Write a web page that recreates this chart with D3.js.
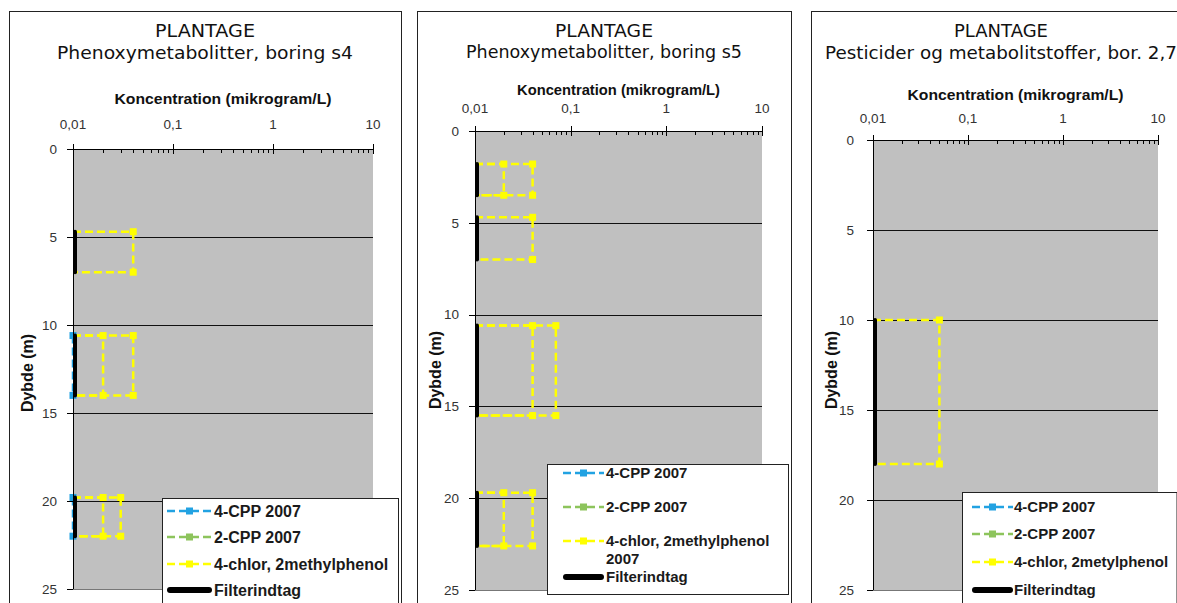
<!DOCTYPE html>
<html>
<head>
<meta charset="utf-8">
<script src="https://cdn.jsdelivr.net/npm/d3@7/dist/d3.min.js"></script>
<style>
  body { margin: 0; background: #fff; }
  svg { display: block; }
</style>
</head>
<body>
<svg id="chart" width="1177" height="603"></svg>
<script>
const mainTitle = "PLANTAGE";
const subTitles = [
  "Phenoxymetabolitter, boring s4",
  "Phenoxymetabolitter, boring s5",
  "Pesticider og metabolitstoffer, bor. 2,7"
];
const xAxisTitle = "Koncentration (mikrogram/L)";
const yAxisTitle = "Dybde (m)";
const xTickValues = [0.01, 0.1, 1, 10];
const xTickLabels = ["0,01", "0,1", "1", "10"];
const yTickValues = [0, 5, 10, 15, 20, 25];
const legendLabels = [
  ["4-CPP 2007", "2-CPP 2007", "4-chlor, 2methylphenol", "Filterindtag"],
  ["4-CPP 2007", "2-CPP 2007", "4-chlor, 2methylphenol\n2007", "Filterindtag"],
  ["4-CPP 2007", "2-CPP 2007", "4-chlor, 2metylphenol", "Filterindtag"]
];

// filter intervals [top, bottom] in m
const filterS4 = [[4.7, 7.0], [10.6, 14.0], [19.8, 22.0]];
const filterS5 = [[1.8, 3.5], [4.7, 7.0], [10.6, 15.5], [19.7, 22.6]];
const filterB27 = [[10.0, 18.0]];

// samples [top, bottom, concentration]
const cpp4S4 = [[10.6, 14.0, 0.01], [19.8, 22.0, 0.01]];
const cpp4S5 = [];
const cpp4B27 = [];
const cpp2S4 = [];
const cpp2S5 = [];
const cpp2B27 = [];
const chlorS4 = [[4.7, 7.0, 0.04], [10.6, 14.0, 0.02], [10.6, 14.0, 0.04], [19.8, 22.0, 0.02], [19.8, 22.0, 0.03]];
const chlorS5 = [[1.8, 3.5, 0.02], [1.8, 3.5, 0.04], [4.7, 7.0, 0.04], [10.6, 15.5, 0.04], [10.6, 15.5, 0.07], [19.7, 22.6, 0.02], [19.7, 22.6, 0.04]];
const chlorB27 = [[10.0, 18.0, 0.05]];

const colors = { cpp4: "#22a2e2", cpp2: "#8dc45c", chlor: "#ffff00", filter: "#000" };

// layout of the three panels
const layouts = [
  { frame: [9, 11, 392], plot: { l: 73, r: 373, t: 149, b: 589 },
    titleY: [37, 59], titleW: [100, 296], axTitleY: 104, axTitleW: 217, xTickY: 129, yTickGap: 16,
    yLab: [33, 373], legend: { x: 162, y: 498, w: 236, rows: [13, 39, 66, 92], line: [5, 50], text: 52, font: 16 } },
  { frame: [417, 11, 374], plot: { l: 475, r: 762, t: 131, b: 590 },
    titleY: [37, 58], titleW: [98, 276], axTitleY: 95, axTitleW: 203, xTickY: 113, yTickGap: 16,
    yLab: [441, 370], legend: { x: 547, y: 464, w: 241, rows: [9, 43, 77, 113], line: [16, 57], text: 59, font: 15 } },
  { frame: [811, 11, 380], plot: { l: 873, r: 1158, t: 140, b: 590 },
    titleY: [37, 59], titleW: [94, 352], axTitleY: 100, axTitleW: 216, xTickY: 123, yTickGap: 19,
    yLab: [837, 370], legend: { x: 962, y: 492, w: 214.5, rows: [15, 42, 70, 98], line: [10, 51], text: 52, font: 15 } }
];

const panels = [
  { sub: subTitles[0], legend: legendLabels[0], filter: filterS4, cpp4: cpp4S4, cpp2: cpp2S4, chlor: chlorS4 },
  { sub: subTitles[1], legend: legendLabels[1], filter: filterS5, cpp4: cpp4S5, cpp2: cpp2S5, chlor: chlorS5 },
  { sub: subTitles[2], legend: legendLabels[2], filter: filterB27, cpp4: cpp4B27, cpp2: cpp2B27, chlor: chlorB27 }
];

const svg = d3.select("#chart");

panels.forEach((p, i) => drawPanel(p, layouts[i]));

function drawPanel(p, L) {
  const g = svg.append("g");
  const x = d3.scaleLog().domain([0.01, 10]).range([L.plot.l, L.plot.r]);
  const y = d3.scaleLinear().domain([0, 25]).range([L.plot.t, L.plot.b]);
  const x0 = x.domain()[0];

  // outer frame
  g.append("rect")
    .attr("x", L.frame[0] + 0.5).attr("y", L.frame[1] + 0.5)
    .attr("width", L.frame[2]).attr("height", 620)
    .attr("fill", "#fff").attr("stroke", "#222");

  // titles
  g.append("text")
    .attr("x", L.frame[0] + L.frame[2] / 2).attr("y", L.titleY[0])
    .attr("text-anchor", "middle")
    .style("font", "17px 'DejaVu Sans', sans-serif").attr("fill", "#111")
    .attr("textLength", L.titleW[0]).attr("lengthAdjust", "spacingAndGlyphs")
    .text(mainTitle);
  g.append("text")
    .attr("x", L.frame[0] + L.frame[2] / 2).attr("y", L.titleY[1])
    .attr("text-anchor", "middle")
    .style("font", "17px 'DejaVu Sans', sans-serif").attr("fill", "#111")
    .attr("textLength", L.titleW[1]).attr("lengthAdjust", "spacingAndGlyphs")
    .text(p.sub);

  // plot area
  g.append("rect")
    .attr("x", L.plot.l).attr("y", L.plot.t)
    .attr("width", L.plot.r - L.plot.l).attr("height", L.plot.b - L.plot.t)
    .attr("fill", "#c0c0c0");

  // horizontal gridlines
  g.selectAll(".grid")
    .data(yTickValues.slice(1))
    .join("line")
    .attr("x1", L.plot.l).attr("x2", L.plot.r)
    .attr("y1", d => Math.round(y(d)) + 0.5).attr("y2", d => Math.round(y(d)) + 0.5)
    .attr("stroke", (d, i, a) => i === a.length - 1 ? "#777" : "#111")
    .attr("stroke-width", 1);

  // series: box path from axis to concentration and back
  const line = d3.line().x(d => x(d[0])).y(d => y(d[1]));
  const drawSeries = (data, color) => {
    g.append("g").selectAll("path")
      .data(data)
      .join("path")
      .attr("d", d => line([[x0, d[0]], [d[2], d[0]], [d[2], d[1]], [x0, d[1]]]))
      .attr("fill", "none")
      .attr("stroke", color)
      .attr("stroke-width", 2.5)
      .attr("stroke-dasharray", "8,4");
    const pts = data.flatMap(d => [[d[2], d[0]], [d[2], d[1]]]);
    g.append("g").selectAll("rect")
      .data(pts)
      .join("rect")
      .attr("x", d => x(d[0]) - 3.5).attr("y", d => y(d[1]) - 3.5)
      .attr("width", 7).attr("height", 7)
      .attr("fill", color);
  };
  drawSeries(p.chlor, colors.chlor);
  drawSeries(p.cpp2, colors.cpp2);
  drawSeries(p.cpp4, colors.cpp4);

  // filter intervals
  g.append("g").selectAll("line")
    .data(p.filter)
    .join("line")
    .attr("x1", x(x0) + 2).attr("x2", x(x0) + 2)
    .attr("y1", d => y(d[0])).attr("y2", d => y(d[1]))
    .attr("stroke", colors.filter)
    .attr("stroke-width", 4)
    .attr("stroke-linecap", "round");

  // left axis
  g.append("line")
    .attr("x1", L.plot.l + 0.5).attr("x2", L.plot.l + 0.5)
    .attr("y1", L.plot.t).attr("y2", L.plot.b)
    .attr("stroke", "#000");
  g.append("g").selectAll("line")
    .data(yTickValues)
    .join("line")
    .attr("x1", L.plot.l - 6).attr("x2", L.plot.l)
    .attr("y1", d => Math.round(y(d)) + 0.5).attr("y2", d => Math.round(y(d)) + 0.5)
    .attr("stroke", "#000");
  g.append("g").selectAll("text")
    .data(yTickValues)
    .join("text")
    .attr("x", L.plot.l - L.yTickGap).attr("y", d => y(d))
    .attr("dy", "0.36em")
    .attr("text-anchor", "end")
    .style("font", "13.5px 'Liberation Sans', Arial, sans-serif").attr("fill", "#333")
    .text(d => d);

  // top log axis
  g.append("line")
    .attr("x1", L.plot.l).attr("x2", L.plot.r)
    .attr("y1", L.plot.t + 0.5).attr("y2", L.plot.t + 0.5)
    .attr("stroke", "#000");
  const minor = x.ticks().filter(v => !xTickValues.includes(v));
  g.append("g").selectAll("line")
    .data(minor)
    .join("line")
    .attr("x1", d => Math.round(x(d)) + 0.5).attr("x2", d => Math.round(x(d)) + 0.5)
    .attr("y1", L.plot.t).attr("y2", L.plot.t + 4)
    .attr("stroke", "#000");
  g.append("g").selectAll("line")
    .data(xTickValues)
    .join("line")
    .attr("x1", d => Math.round(x(d)) + 0.5).attr("x2", d => Math.round(x(d)) + 0.5)
    .attr("y1", L.plot.t - 5).attr("y2", L.plot.t + 5)
    .attr("stroke", "#000");
  g.append("g").selectAll("text")
    .data(xTickValues)
    .join("text")
    .attr("x", d => x(d)).attr("y", L.xTickY)
    .attr("text-anchor", "middle")
    .style("font", "13.5px 'Liberation Sans', Arial, sans-serif").attr("fill", "#333")
    .text((d, i) => xTickLabels[i]);

  // axis titles
  g.append("text")
    .attr("x", (L.plot.l + L.plot.r) / 2).attr("y", L.axTitleY)
    .attr("text-anchor", "middle")
    .style("font", "bold 15.5px 'Liberation Sans', Arial, sans-serif").attr("fill", "#111")
    .attr("textLength", L.axTitleW).attr("lengthAdjust", "spacingAndGlyphs")
    .text(xAxisTitle);
  g.append("text")
    .attr("transform", `translate(${L.yLab[0]},${L.yLab[1]}) rotate(-90)`)
    .attr("text-anchor", "middle")
    .style("font", "bold 16px 'Liberation Sans', Arial, sans-serif").attr("fill", "#111")
    .text(yAxisTitle);

  // legend
  const lg = g.append("g").attr("transform", `translate(${L.legend.x},${L.legend.y})`);
  lg.append("rect")
    .attr("x", 0.5).attr("y", 0.5)
    .attr("width", L.legend.w).attr("height", 130)
    .attr("fill", "#fff").attr("stroke", "#222");
  const keys = [colors.cpp4, colors.cpp2, colors.chlor, colors.filter];
  p.legend.forEach((label, k) => {
    const ry = L.legend.rows[k];
    const [a, b] = L.legend.line;
    if (k < 3) {
      lg.append("line")
        .attr("x1", a).attr("x2", b).attr("y1", ry).attr("y2", ry)
        .attr("stroke", keys[k]).attr("stroke-width", 2.5)
        .attr("stroke-dasharray", "8,4");
      lg.append("rect")
        .attr("x", (a + b) / 2 - 3.5).attr("y", ry - 3.5)
        .attr("width", 7).attr("height", 7)
        .attr("fill", keys[k]);
    } else {
      lg.append("line")
        .attr("x1", a + 3).attr("x2", b - 3).attr("y1", ry).attr("y2", ry)
        .attr("stroke", keys[k]).attr("stroke-width", 6)
        .attr("stroke-linecap", "round");
    }
    const t = lg.append("text")
      .attr("x", L.legend.text).attr("y", ry)
      .style("font", `bold ${L.legend.font}px 'Liberation Sans', Arial, sans-serif`).attr("fill", "#1a1a1a");
    label.split("\n").forEach((s, j) => {
      t.append("tspan").attr("x", L.legend.text).attr("dy", j === 0 ? "0.36em" : "1.2em").text(s);
    });
  });
}
</script>
</body>
</html>
